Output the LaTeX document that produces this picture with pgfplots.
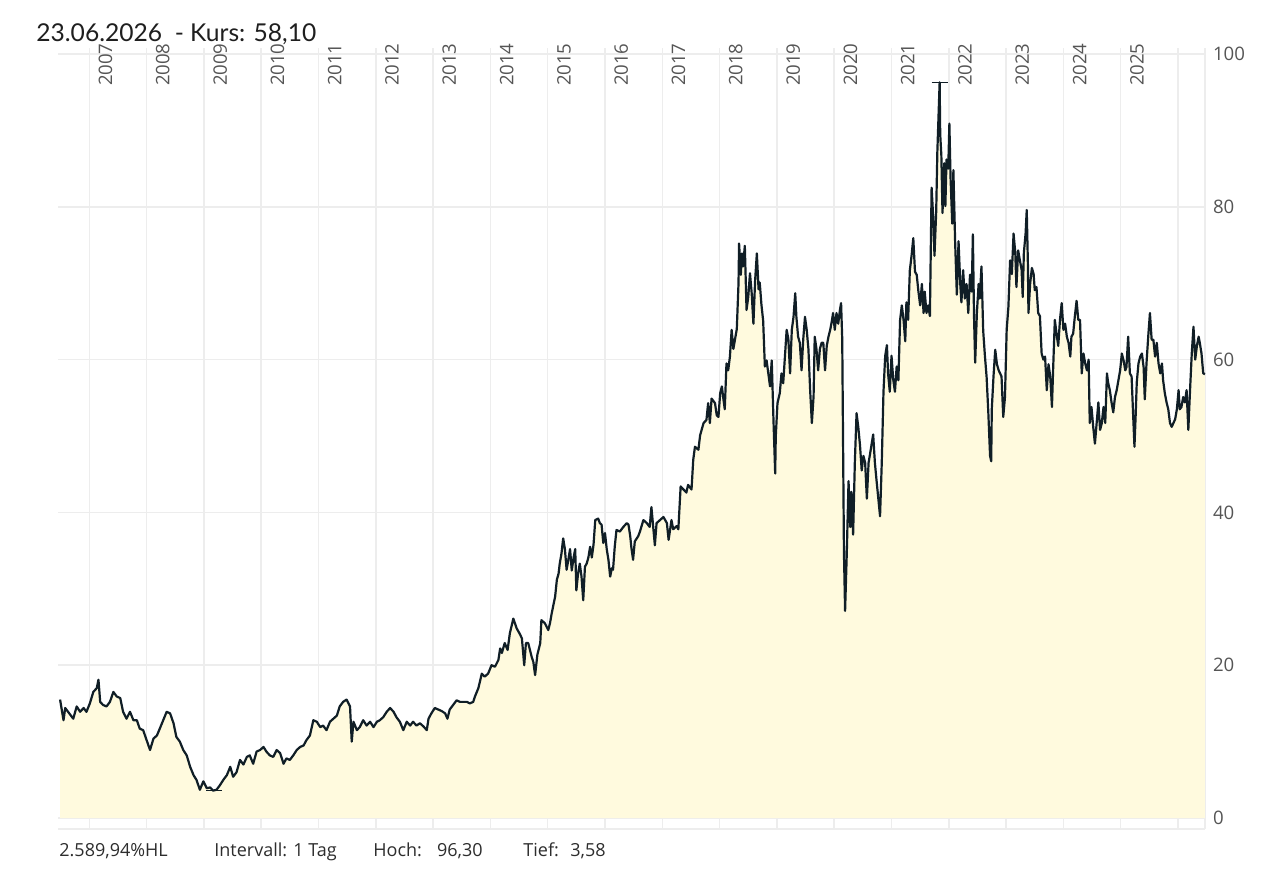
\documentclass[border=0pt]{standalone}
\usepackage{pgfplots}
\pgfplotsset{compat=1.18}
\usepackage{pgfplotstable}
\usepackage{fontspec}
\setmainfont{Open Sans}
\newfontfamily\titlefont{Lato}
\definecolor{fillc}{RGB}{255,250,222}
\definecolor{linec}{RGB}{16,30,38}
\definecolor{gridc}{RGB}{237,237,237}
\definecolor{labc}{RGB}{85,85,85}
\definecolor{txtc}{RGB}{45,45,45}

\pgfplotstableread{
year val
2006.49 15.5
2006.55 12.8
2006.58 14.4
2006.63 13.9
2006.72 13.0
2006.78 14.6
2006.84 13.9
2006.90 14.4
2006.95 13.9
2007.01 15.0
2007.07 16.5
2007.13 17.0
2007.16 18.1
2007.19 15.2
2007.24 14.8
2007.30 14.6
2007.36 15.2
2007.42 16.5
2007.48 15.9
2007.54 15.7
2007.59 13.9
2007.65 13.0
2007.71 13.9
2007.77 12.8
2007.83 12.8
2007.88 11.7
2007.94 11.5
2008.00 10.2
2008.06 8.9
2008.12 10.4
2008.18 10.8
2008.23 11.7
2008.29 12.8
2008.35 13.9
2008.41 13.7
2008.47 12.4
2008.52 10.6
2008.58 10.0
2008.64 8.9
2008.70 8.2
2008.76 6.7
2008.82 5.6
2008.87 5.0
2008.93 3.7
2008.99 4.8
2009.05 3.9
2009.11 4.0
2009.16 3.58
2009.22 3.7
2009.28 4.3
2009.34 5.0
2009.40 5.6
2009.46 6.7
2009.51 5.4
2009.57 6.0
2009.63 7.6
2009.69 7.0
2009.75 8.0
2009.80 8.2
2009.86 7.1
2009.92 8.7
2009.98 8.9
2010.04 9.3
2010.09 8.7
2010.15 8.2
2010.21 8.0
2010.27 8.9
2010.33 8.5
2010.39 7.1
2010.44 7.8
2010.50 7.6
2010.56 8.2
2010.62 8.9
2010.68 9.3
2010.74 9.5
2010.79 10.2
2010.85 10.8
2010.91 12.8
2010.97 12.6
2011.03 11.9
2011.08 12.1
2011.14 11.5
2011.20 12.6
2011.26 13.0
2011.32 13.4
2011.37 14.6
2011.43 15.2
2011.49 15.5
2011.55 14.6
2011.58 10.0
2011.61 12.6
2011.67 11.5
2011.72 11.9
2011.78 12.8
2011.84 12.1
2011.90 12.6
2011.96 11.9
2012.02 12.6
2012.07 12.8
2012.13 13.2
2012.19 13.9
2012.25 14.4
2012.31 13.9
2012.36 13.2
2012.42 12.6
2012.48 11.5
2012.54 12.6
2012.60 12.1
2012.65 12.6
2012.71 12.1
2012.77 12.4
2012.83 12.0
2012.89 11.5
2012.92 13.0
2012.97 13.7
2013.03 14.4
2013.09 14.2
2013.15 14.0
2013.21 13.7
2013.25 13.0
2013.29 14.2
2013.35 14.8
2013.41 15.4
2013.47 15.2
2013.53 15.2
2013.59 15.2
2013.64 15.0
2013.70 15.2
2013.73 15.9
2013.79 17.0
2013.85 18.9
2013.90 18.5
2013.96 18.9
2014.02 20.0
2014.08 19.8
2014.14 20.7
2014.17 22.2
2014.20 21.6
2014.25 22.9
2014.30 22.0
2014.34 24.2
2014.40 26.1
2014.46 24.8
2014.52 24.0
2014.55 23.5
2014.59 20.0
2014.62 22.9
2014.66 22.9
2014.72 21.1
2014.75 20.4
2014.78 18.7
2014.82 21.4
2014.87 22.9
2014.89 25.9
2014.95 25.5
2015.01 24.6
2015.04 25.5
2015.07 26.8
2015.13 29.0
2015.16 31.2
2015.19 32.0
2015.21 33.3
2015.24 34.6
2015.27 36.6
2015.30 35.2
2015.33 32.5
2015.36 33.8
2015.39 35.2
2015.42 32.4
2015.45 34.0
2015.48 35.2
2015.50 29.8
2015.53 32.0
2015.56 33.3
2015.59 31.6
2015.62 28.5
2015.65 32.9
2015.68 33.3
2015.71 34.1
2015.74 35.5
2015.77 34.1
2015.80 35.8
2015.83 39.0
2015.88 39.2
2015.91 38.6
2015.94 38.4
2015.97 36.0
2016.00 37.3
2016.03 35.2
2016.06 33.8
2016.09 31.6
2016.12 32.7
2016.14 32.5
2016.17 35.5
2016.20 37.7
2016.26 37.5
2016.32 38.1
2016.38 38.6
2016.41 38.4
2016.44 36.9
2016.46 35.4
2016.49 33.8
2016.52 36.2
2016.58 36.9
2016.61 37.5
2016.67 39.0
2016.73 38.6
2016.78 38.1
2016.81 40.7
2016.87 35.7
2016.90 38.6
2016.96 39.0
2017.02 39.4
2017.08 38.6
2017.11 36.4
2017.16 39.0
2017.19 37.8
2017.25 38.2
2017.28 37.8
2017.32 43.4
2017.37 43.0
2017.42 42.6
2017.45 43.6
2017.51 43.0
2017.54 46.9
2017.57 48.6
2017.63 48.2
2017.66 50.1
2017.72 51.7
2017.77 52.1
2017.80 54.3
2017.83 51.7
2017.86 54.9
2017.92 54.3
2017.95 52.7
2017.98 52.5
2018.01 55.6
2018.04 56.5
2018.06 55.2
2018.09 53.5
2018.12 59.5
2018.15 58.6
2018.18 60.4
2018.21 63.9
2018.24 61.4
2018.27 62.7
2018.30 64.0
2018.33 70.0
2018.34 75.2
2018.37 71.1
2018.39 73.9
2018.41 72.2
2018.44 74.9
2018.47 66.5
2018.50 68.2
2018.53 71.3
2018.56 68.7
2018.59 64.7
2018.62 70.4
2018.65 73.9
2018.68 69.2
2018.70 70.1
2018.73 67.2
2018.76 65.1
2018.79 59.1
2018.82 59.9
2018.85 58.2
2018.88 56.5
2018.91 59.9
2018.94 52.1
2018.97 45.1
2018.98 49.9
2019.01 54.3
2019.05 55.6
2019.08 58.2
2019.11 56.9
2019.14 60.4
2019.17 63.9
2019.20 62.7
2019.23 58.2
2019.26 63.9
2019.29 65.6
2019.32 68.7
2019.34 65.6
2019.37 63.0
2019.40 62.2
2019.43 58.6
2019.46 62.7
2019.49 65.6
2019.52 63.9
2019.55 61.4
2019.58 56.0
2019.61 51.7
2019.64 55.2
2019.66 63.0
2019.69 61.4
2019.72 58.6
2019.75 61.4
2019.78 62.2
2019.81 62.2
2019.84 58.6
2019.87 61.8
2019.90 63.0
2019.93 63.9
2019.96 65.1
2019.98 66.1
2020.01 63.9
2020.04 66.1
2020.07 64.7
2020.10 66.5
2020.12 67.4
2020.14 62.7
2020.15 53.4
2020.17 34.8
2020.19 27.1
2020.22 34.8
2020.25 44.1
2020.28 38.1
2020.30 42.7
2020.33 37.1
2020.36 46.5
2020.39 53.0
2020.42 51.2
2020.45 48.8
2020.48 45.5
2020.51 47.4
2020.54 46.5
2020.57 41.8
2020.60 46.5
2020.62 47.4
2020.65 48.8
2020.68 50.2
2020.71 46.5
2020.74 44.1
2020.77 41.8
2020.80 39.5
2020.83 46.5
2020.86 55.8
2020.89 60.5
2020.92 61.9
2020.94 58.2
2020.97 55.8
2021.00 60.5
2021.03 57.4
2021.06 55.8
2021.09 59.1
2021.12 57.3
2021.15 65.2
2021.18 67.1
2021.21 65.2
2021.24 62.4
2021.26 67.5
2021.29 65.2
2021.32 71.7
2021.35 73.6
2021.38 75.9
2021.41 71.5
2021.44 71.1
2021.47 68.9
2021.50 67.1
2021.53 69.9
2021.56 66.1
2021.58 68.9
2021.61 66.1
2021.64 67.1
2021.67 65.7
2021.70 82.5
2021.73 78.3
2021.75 73.6
2021.78 79.4
2021.80 87.2
2021.84 96.3
2021.85 89.5
2021.87 86.7
2021.89 79.2
2021.92 85.7
2021.94 80.1
2021.96 86.2
2021.99 85.0
2022.01 90.9
2022.03 83.9
2022.06 77.8
2022.08 84.8
2022.11 75.5
2022.14 68.5
2022.17 75.5
2022.20 69.9
2022.22 67.5
2022.25 71.7
2022.28 68.0
2022.31 69.9
2022.34 66.1
2022.37 71.1
2022.40 68.9
2022.42 76.4
2022.44 65.7
2022.46 59.6
2022.49 66.1
2022.52 69.9
2022.54 68.0
2022.57 72.2
2022.60 63.8
2022.63 60.5
2022.66 57.7
2022.69 53.0
2022.72 47.4
2022.74 46.7
2022.75 53.5
2022.78 57.8
2022.81 61.3
2022.84 59.4
2022.87 58.6
2022.92 57.8
2022.95 52.5
2022.98 55.1
2023.01 63.9
2023.04 66.9
2023.07 73.0
2023.10 71.2
2023.13 76.5
2023.16 74.0
2023.18 69.5
2023.21 74.3
2023.24 73.0
2023.27 71.8
2023.29 68.2
2023.31 74.0
2023.34 76.5
2023.36 79.6
2023.38 72.6
2023.39 66.1
2023.42 70.0
2023.45 72.0
2023.48 71.2
2023.50 69.1
2023.53 69.5
2023.56 66.1
2023.59 65.7
2023.62 60.8
2023.65 60.0
2023.68 60.4
2023.71 56.0
2023.74 59.4
2023.77 57.8
2023.80 53.8
2023.82 58.6
2023.85 65.2
2023.88 63.4
2023.91 61.8
2023.94 65.2
2023.97 67.4
2024.00 63.9
2024.03 64.7
2024.06 63.0
2024.09 62.2
2024.12 60.4
2024.14 63.0
2024.17 63.4
2024.20 65.7
2024.23 67.7
2024.26 65.2
2024.29 65.2
2024.32 58.2
2024.35 60.8
2024.38 59.5
2024.41 58.6
2024.44 60.0
2024.46 51.7
2024.49 53.8
2024.52 51.2
2024.55 49.0
2024.58 51.7
2024.61 54.4
2024.64 50.8
2024.67 51.7
2024.70 53.8
2024.73 51.7
2024.76 58.2
2024.78 57.0
2024.81 56.0
2024.84 54.4
2024.87 53.1
2024.90 55.1
2024.93 56.0
2024.96 57.3
2024.99 58.6
2025.02 60.8
2025.05 59.9
2025.08 58.6
2025.10 59.0
2025.13 63.0
2025.16 58.2
2025.19 57.8
2025.22 52.2
2025.24 48.6
2025.26 52.5
2025.28 57.0
2025.31 59.5
2025.34 60.4
2025.37 60.8
2025.40 59.0
2025.42 54.8
2025.45 59.5
2025.48 63.0
2025.51 66.1
2025.54 62.6
2025.57 62.6
2025.60 60.4
2025.63 62.2
2025.66 59.5
2025.69 58.2
2025.72 59.5
2025.74 57.3
2025.77 55.6
2025.80 54.4
2025.83 53.5
2025.86 51.7
2025.89 51.2
2025.92 51.7
2025.95 52.2
2025.98 53.5
2026.01 56.0
2026.03 53.5
2026.06 53.8
2026.09 55.1
2026.12 54.4
2026.15 56.0
2026.18 50.8
2026.21 56.0
2026.24 60.8
2026.27 64.3
2026.30 60.0
2026.33 61.8
2026.36 63.0
2026.38 62.2
2026.41 60.8
2026.44 58.2
2026.47 58.1
}\kurs

\begin{document}
\begin{tikzpicture}
\path[use as bounding box] (0,0) rectangle (634pt,-436pt);
\fill[white] (0,0) rectangle (634pt,-436pt);
\node[anchor=base west, inner sep=0, text=black!88,
      font=\titlefont\fontsize{12.3}{14}\selectfont] at (18pt,-21pt)
      {23.06.2026\ \ - Kurs: 58,10};
\begin{axis}[
  at={(29pt,-414.5pt)}, anchor=south west,
  scale only axis, width=573.5pt, height=390.5pt,
  xmin=2006.4538, xmax=2026.4712, ymin=-1.44, ymax=100.79,
  axis x line*=bottom, axis y line*=right,
  axis line style={gridc, line width=0.75pt},
  xtick={2007,2008,...,2026}, xticklabels={},
  ytick={0,20,...,100},
  yticklabel style={font=\fontsize{9.3}{10}\selectfont, text=labc, xshift=0.5pt},
  /pgf/number format/assume math mode=true,
  major tick length=0pt,
  grid=major, grid style={gridc, line width=0.75pt},
  clip=false,
]
\addplot[draw=none, fill=fillc] table[x=year, y=val] {\kurs} \closedcycle;
\addplot[linec, line width=1.1pt, line join=round] table[x=year, y=val] {\kurs};
\addplot[linec, line width=0.75pt] coordinates {(2021.70,96.3) (2021.99,96.3)};
\addplot[linec, line width=0.75pt] coordinates {(2009.04,3.58) (2009.32,3.58)};
\pgfplotsinvokeforeach{2007,2008,...,2025}{
  \node[rotate=90, anchor=north east, inner sep=0, text=labc,
        font=\fontsize{9.3}{10}\selectfont, xshift=2.5pt, yshift=-4.5pt]
        at (axis cs:#1,100.79) {#1};
}
\end{axis}
\begin{scope}[every node/.style={anchor=base west, inner sep=0, text=txtc,
      font=\fontsize{9}{10}\selectfont}]
\node at (29.5pt,-428pt) {2.589,94\%HL};
\node at (107pt,-428pt) {Intervall: 1 Tag};
\node at (186.5pt,-428pt) {Hoch:};
\node at (218.3pt,-428pt) {96,30};
\node at (261.5pt,-428pt) {Tief:};
\node at (285pt,-428pt) {3,58};
\end{scope}
\end{tikzpicture}
\end{document}
